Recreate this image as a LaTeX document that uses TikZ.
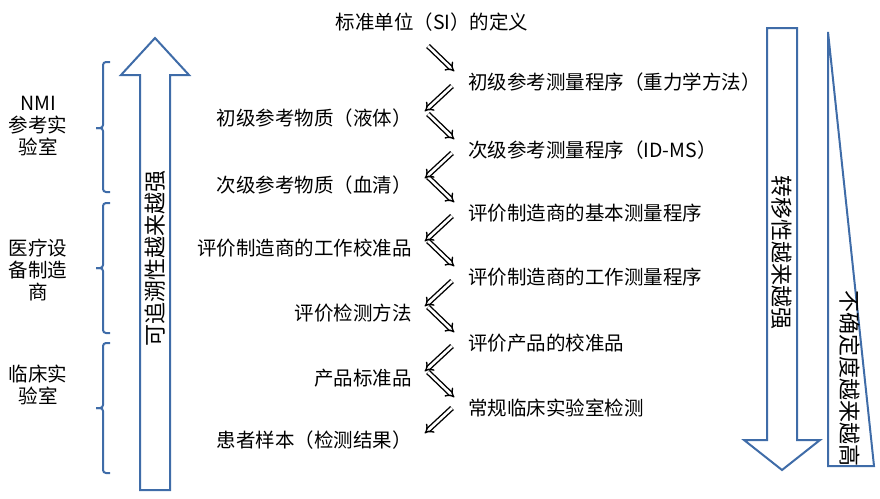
\documentclass[tikz,border=0pt]{standalone}
\usepackage{fontspec}
\setmainfont{Noto Sans CJK SC}
\usetikzlibrary{arrows.meta}
\definecolor{bl}{HTML}{3F6CA8}
\tikzset{
 lbl/.style={font=\fontsize{19.5}{22}\selectfont, inner sep=0pt},
 rlbl/.style={font=\fontsize{22}{24}\selectfont, inner sep=0pt},
 za/.style={double, double distance=2.6pt, line width=1.4pt, -{Implies[length=6pt]}, shorten >=1pt},
 brace/.style={draw=bl, line width=2pt, rounded corners=3pt},
 big/.style={draw=bl, line width=2pt, fill=white, line join=miter}
}
\begin{document}
\begin{tikzpicture}[x=1pt,y=-1pt]
\useasboundingbox (0,0) rectangle (880,498);
% title
\node[lbl] (t0) at (432,22) {标准单位（SI）的定义};
% right column
\foreach \n/\y/\s in {r1/82/初级参考测量程序（重力学方法）, r2/150/次级参考测量程序（ID-MS）, r3/213/评价制造商的基本测量程序, r4/277/评价制造商的工作测量程序, r5/343/评价产品的校准品, r6/408/常规临床实验室检测}
  \node[lbl, anchor=west] (\n) at (468,\y) {\s};
\foreach \n/\y/\s in {l1/118/初级参考物质（液体）, l2/185/次级参考物质（血清）, l3/248/评价制造商的工作校准品, l4/313/评价检测方法, l5/378/产品标准品, l6/440/患者样本（检测结果）}
  \node[lbl, anchor=east] (\n) at (412,\y) {\s};
% zigzag arrows
\foreach \y in {82,150,213,277,343,408}{
  \coordinate (a\y) at (428,\y-36); \coordinate (b\y) at (455,\y-10);
  \draw[za] (a\y) -- (b\y);}
\foreach \y in {118,185,248,313,378,440}{
  \coordinate (c\y) at (452,\y-32); \coordinate (d\y) at (424,\y-6);
  \draw[za] (c\y) -- (d\y);}
% braces
\foreach \a/\m/\b in {62/128/192, 203/268/333, 343/408/473}{
  \draw[brace] (110,\a) -- (103,\a) -- (103,\m) -- (96,\m);
  \draw[brace] (96,\m) -- (103,\m) -- (103,\b) -- (110,\b);}
\node[lbl, align=center] (g1) at (38,126) {NMI\\参考实\\验室};
\node[lbl, align=center] (g2) at (38,270) {医疗设\\备制造\\商};
\node[lbl, align=center] (g3) at (38,385) {临床实\\验室};
% big up arrow
\draw[big] (140,490) -- (140,75) -- (121,75) -- (155,38) -- (189,75) -- (170,75) -- (170,490) -- cycle;
\node[rlbl, rotate=90] (up) at (155,258) {可追溯性越来越强};
% big down arrow
\draw[big] (767,28) -- (797,28) -- (797,440) -- (820,440) -- (782,470) -- (744,440) -- (767,440) -- cycle;
\node[rlbl, rotate=-90] (dn) at (782,252) {转移性越来越强};
% triangle
\draw[big] (828,32) -- (874,466) -- (828,466) -- cycle;
\node[rlbl, rotate=-90] (tri) at (850,378) {不确定度越来越高};
\end{tikzpicture}
\end{document}
